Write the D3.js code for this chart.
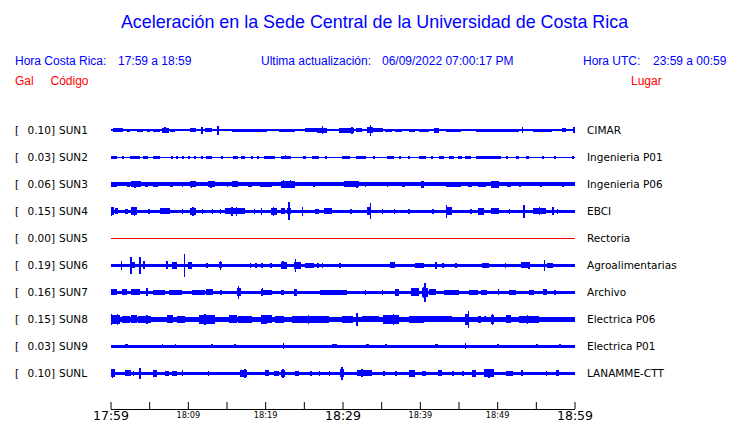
<!DOCTYPE html>
<html><head><meta charset="utf-8">
<script src="https://cdn.jsdelivr.net/npm/d3@7/dist/d3.min.js"></script>
<style>
html,body{margin:0;padding:0;background:#fff;}
svg{display:block;}
</style></head>
<body>
<svg id="c" width="740" height="423"></svg>
<script>
// ---------- data ----------
const codes = ["SUN1","SUN2","SUN3","SUN4","SUN5","SUN6","SUN7","SUN8","SUN9","SUNL"];
const galValues = ["0.10","0.03","0.06","0.15","0.00","0.19","0.16","0.15","0.03","0.10"];
const places = ["CIMAR","Ingenieria P01","Ingenieria P06","EBCI","Rectoria","Agroalimentarias","Archivo","Electrica P06","Electrica P01","LANAMME-CTT"];
// base noise half-amplitude per trace (relative units)
const baseLevels = [1.1,0.6,1.9,1.7,0,1.7,1.8,2.5,1.5,1.8];
const tickMinutes = [0,5,10,15,20,25,30,35,40,45,50,55,60];
const tickLabels = ["17:59","","18:09","","18:19","","18:29","","18:39","","18:49","","18:59"];

// bursts: [start minute, end minute, half-amplitude]; spikes: [minute, half-amplitude]
const sun1Bursts = [[0.37,1.66,2],[2.1,2.5,1.8],[3.4,4.25,1.8],[4.7,5.1,1.8],[5.5,6.4,1.8],[6.6,7.5,2.4],[7.7,8.3,1.8],[10.3,11.1,2],[12.2,13.1,2],[15.7,20.2,1.6],
  [21.8,23.9,1.6],[25.2,26.7,2.2],[26.7,28.0,2.8],[29.5,31.45,2.3],[31.7,32.5,2],[33.2,34.0,3],[34.0,35.3,2.2],[35.5,36.4,1.8],[36.8,37.7,1.8],[38.6,39.4,1.8],
  [39.9,41.2,1.5],[41.85,42.5,2.3],[43.4,45.3,1.7],[47.2,52.8,1.5],[54.6,57.1,1.5],[58.4,58.9,2]];
const sun1Spikes = [[7.05,3],[11.8,3.5],[13.9,4.5],[27.4,4.2],[31.2,3.5],[33.6,6],[42.1,2.8],[53.3,3.2],[59.95,3.2]];

const sun2Bursts = [[0,0.8,1.5],[1.5,1.8,1.3],[2.5,3.8,1.5],[4.25,4.9,1.4],[5.5,6.4,1.4],[7.8,8.05,1.4],[8.5,8.75,1.4],[9.3,9.55,1.4],[10.0,10.25,1.4],[10.8,11.05,1.4],[11.7,11.95,1.4],
  [12.4,13.1,1.4],[14.3,14.55,1.4],[15.9,16.5,1.5],[16.9,17.4,1.4],[18.2,18.45,1.4],[19.0,19.25,1.4],[19.8,20.2,1.4],
  [20.3,21.3,1.3],[22.0,23.3,1.8],[24.9,25.3,1.4],[26.1,26.9,1.4],[27.7,27.95,1.4],[29.9,31.0,1.5],[31.7,33.0,1.4],[33.9,34.15,1.4],[35.8,36.6,1.4],[37.3,37.5,1.4],[38.5,38.75,1.4],
  [39.9,40.8,1.5],[41.5,41.75,1.4],[42.5,43.1,1.4],[43.8,44.4,1.4],[44.9,45.5,1.4],[45.9,46.6,1.4],[47.2,50.5,1.4],[51.2,51.45,1.4],[52.4,52.8,1.4],[53.7,54.1,1.4],[55.8,56.05,1.4],[57.4,57.6,1.4],[59.7,59.95,1.4]];
const sun2Spikes = [[22.6,2],[0.3,1.8]];

const sun3Bursts = [[0,0.8,2.8],[2.1,2.5,2.6],[2.7,4.0,3],[4.5,4.9,2.6],[5.5,6.2,2.6],[7.7,8.1,2.6],[9.2,9.4,2.6],[10.3,11.1,3],[12.6,13.5,3],[15.0,15.2,2.6],[15.7,16.5,3],[17.8,18.3,2.6],[19.3,20.2,2.6],
  [19.6,20.9,2.5],[22.0,23.9,3.5],[26.2,26.4,2.6],[30.2,32.1,3],[32.9,33.1,2.6],[35.7,35.9,2.6],[37.7,38.1,2.8],[40.1,40.5,3.5],
  [43.4,45.3,2.8],[46.2,46.8,2.6],[47.5,48.5,2.8],[49.2,50.3,3.5],[51.3,51.8,2.6],[52.8,53.1,2.6],[55.6,55.8,2.6],[58.4,58.6,2.6]];
const sun3Spikes = [[3.2,3.6],[10.5,3.6],[13.0,3.4],[22.4,4.2],[23.3,4.2],[31.9,3.6],[49.6,3.8],[40.3,3.8]];

const sun4Bursts = [[0,0.4,4],[0.6,1.0,3],[1.9,2.2,2.8],[2.7,3.4,4],[4.85,5.1,2.8],[6.4,7.7,3],[9.2,9.4,2.8],[10.3,11.1,3.5],[11.8,12.0,2.8],[13.1,13.3,2.8],[14.1,14.3,2.8],[14.8,17.4,3],[18.5,18.7,2.8],
  [20.7,21.5,3.5],[22.0,22.6,3],[22.8,23.3,3.2],[26.5,26.9,2.8],[27.6,28.65,3],[31.0,31.2,2.8],[33.2,33.6,4],[35.1,35.3,2.8],[36.6,36.8,2.8],[38.5,38.7,2.8],
  [41.6,41.8,2.8],[43.4,44.2,4],[46.5,46.7,2.8],[47.5,48.3,3.5],[49.2,50.3,3],[51.5,51.7,2.8],[54.6,56.3,3],[57.7,57.9,2.8]];
const sun4Spikes = [[0.15,5],[3.1,4.8],[10.7,5],[15.7,4.5],[16.3,4.5],[19.5,3.6],[21.1,5],[23.05,9.5],[24.8,5],[33.6,8.5],[43.45,7],[53.5,7],[55.5,4],[57.2,4]];

const sun5Bursts = [];
const sun5Spikes = [];

const sun6Bursts = [[2.5,3.2,3],[4.25,4.5,4],[7.9,8.6,3.5],[10.0,10.5,3.5],[12.4,12.6,2.8],[14.0,14.4,3],[18.0,18.2,2.6],[18.7,18.9,2.6],[19.5,19.7,2.6],
  [20.6,20.9,2.5],[22.0,22.8,3.5],[23.7,24.6,3.5],[25.2,26.3,2.8],[26.7,26.9,2.6],[27.3,27.5,2.6],[29.6,29.8,2.6],[36.2,36.8,3],[39.4,40.5,2.5],
  [42.9,43.1,2.6],[44.6,44.8,2.6],[48.1,49.0,2.5],[51.0,51.2,2.6],[53.1,54.1,3],[56.5,57.2,2.5]];
const sun6Spikes = [[1.45,5],[2.65,9],[3.8,9],[7.3,4],[9.6,12],[14.2,5],[22.3,4],[23.9,7],[42.1,3.5],[54.1,3.5],[56.1,5.5]];

const sun7Bursts = [[0,0.8,3],[1.45,2.1,3],[2.7,3.8,3],[5.5,7.1,2.5],[7.5,9.2,2.8],[10.5,12.2,2.8],[12.4,13.3,3],[14.2,14.4,2.6],[16.3,16.9,4],
  [19.6,20.9,2.5],[22.0,22.4,2.8],[23.7,24.1,3.5],[27.1,30.6,2.5],[32.9,33.1,2.6],[35.1,35.3,2.6],[36.8,37.3,3.5],[38.8,39.9,4],
  [40.3,41.0,5],[41.2,42.1,3],[43.1,45.1,2.5],[46.4,47.5,2.5],[47.9,48.7,2.6],[51.5,52.4,2.6],[54.1,54.8,2.6],[55.9,56.5,3],[57.4,57.6,2.6]];
const sun7Spikes = [[4.7,4],[16.55,7],[19.5,3.5],[19.65,4],[40.5,6],[40.7,10],[50.2,3]];

const sun8Bursts = [[0,1.2,5],[1.45,2.5,3.5],[2.7,3.4,4],[3.6,5.3,3.5],[7.3,8.1,4],[8.6,9.6,3.5],[11.4,13.5,4.5],[15.3,16.3,4],[16.5,18.3,3.5],[19.5,20.2,4.5],
  [19.6,20.9,4],[21.3,22.4,3.5],[23.5,28.2,3.5],[29.9,31.4,3.5],[32.5,34.7,3],[35.3,37.3,5],[38.6,40.5,3.5],
  [39.9,44.2,3],[45.9,46.4,6],[47.5,47.9,3.5],[48.3,48.5,3],[49.2,49.6,5],[51.1,51.8,4],[52.8,55.4,3.5],[56.3,60,2.8]];
const sun8Spikes = [[0.15,6],[0.9,6],[4.7,4.8],[12.2,5.5],[25.6,5],[31.9,7],[36.6,6],[46.3,9],[49.4,6],[53.9,5]];

const sun9Bursts = [[1.9,2.3,2],[6.6,6.8,1.9],[8.3,8.5,1.9],[13.0,13.2,1.9],[16.0,16.2,1.9],[28.6,29.3,2],[33.0,33.4,1.9],[35.5,35.7,1.9],[42.0,42.3,1.9],[50.0,50.2,1.9],[55.0,55.3,1.9],[58.0,58.2,1.9]];
const sun9Spikes = [[22.4,3],[45.9,3]];

const sunLBursts = [[0,0.6,4],[1.9,2.7,3],[2.9,3.05,2.8],[5.5,6.0,3.5],[7.1,7.5,2.8],[7.9,8.6,2.8],[9.2,9.4,3],[12.6,12.8,2.6],[16.7,17.6,3.5],
  [20.0,20.5,3],[21.1,21.8,2.8],[22.0,22.6,3.5],[23.9,24.4,2.8],[25.8,26.0,2.6],[26.9,27.1,2.6],[28.2,28.4,2.6],[29.7,30.2,4],[31.9,33.8,3],[35.3,35.5,2.6],[36.8,37.0,2.6],[38.6,39.4,3.5],
  [40.3,40.8,2.8],[42.3,42.9,3],[44.2,44.4,2.6],[45.5,45.7,2.6],[46.8,47.2,3.5],[48.3,49.6,4],[51.1,52.0,2.8],[53.1,53.3,3],[56.3,56.5,2.6],[57.6,58.0,3]];
const sunLSpikes = [[0.25,5],[3.8,6],[17.4,5],[22.3,5],[29.95,6.5],[32.5,4],[48.95,5]];

const burstLists = [sun1Bursts,sun2Bursts,sun3Bursts,sun4Bursts,sun5Bursts,sun6Bursts,sun7Bursts,sun8Bursts,sun9Bursts,sunLBursts];
const spikeLists = [sun1Spikes,sun2Spikes,sun3Spikes,sun4Spikes,sun5Spikes,sun6Spikes,sun7Spikes,sun8Spikes,sun9Spikes,sunLSpikes];

// ---------- drawing ----------
const svg = d3.select("#c");
const blue = "#0000ff", red = "#ff0000";
const headFont = "'Liberation Sans', Arial, sans-serif";
const labFont = "'DejaVu Sans', sans-serif";

const x = d3.scaleLinear().domain([0,60]).range([110.5,574.5]);
const row = d3.scalePoint().domain(codes).range([130.3,373.3]);
const amp = d3.scaleLinear().domain([0,12]).range([0,11.5]);

// header
svg.append("text").attr("x",374.5).attr("y",28).attr("text-anchor","middle")
  .attr("font-family",headFont).attr("font-size",17.9).attr("fill",blue)
  .text("Aceleración en la Sede Central de la Universidad de Costa Rica");

const head = [
  {t:"Hora Costa Rica:",x:15,y:65,c:blue},
  {t:"17:59 a 18:59",x:118,y:65,c:blue},
  {t:"Ultima actualización:",x:261,y:65,c:blue},
  {t:"06/09/2022 07:00:17 PM",x:382,y:65,c:blue},
  {t:"Hora UTC:",x:583,y:65,c:blue},
  {t:"23:59 a 00:59",x:653,y:65,c:blue},
  {t:"Gal",x:15,y:85,c:red},
  {t:"Código",x:50.5,y:85,c:red},
  {t:"Lugar",x:631,y:85,c:red}
];
svg.selectAll("text.head").data(head).join("text").attr("class","head")
  .attr("x",d=>d.x).attr("y",d=>d.y).attr("fill",d=>d.c)
  .attr("font-family",headFont).attr("font-size",12).text(d=>d.t);

// rows
const rows = svg.selectAll("g.row").data(codes.map((c,i)=>({code:c,i}))).join("g").attr("class","row");

rows.append("text").attr("x",15).attr("y",d=>row(d.code)+4)
  .attr("font-family",labFont).attr("font-size",10.5).attr("fill","#000").text("[");
rows.append("text").attr("x",55).attr("y",d=>row(d.code)+4).attr("text-anchor","end")
  .attr("font-family",labFont).attr("font-size",10.5).attr("fill","#000").text(d=>galValues[d.i]+"]");
rows.append("text").attr("x",59).attr("y",d=>row(d.code)+4)
  .attr("font-family",labFont).attr("font-size",10.5).attr("fill","#000").text(d=>d.code);
rows.append("text").attr("x",587).attr("y",d=>row(d.code)+4)
  .attr("font-family",labFont).attr("font-size",10.5).attr("fill","#000").text(d=>places[d.i]);

const traces = rows.append("g").attr("shape-rendering","crispEdges");

traces.each(function(d){
  const g = d3.select(this);
  const yc = row(d.code);
  const base = baseLevels[d.i];
  if (base === 0) {
    g.append("line").attr("x1",x(0)).attr("x2",x(60)).attr("y1",Math.round(yc)+0.5).attr("y2",Math.round(yc)+0.5)
      .attr("stroke",red).attr("stroke-width",1);
    return;
  }
  g.append("rect").attr("x",x(0)).attr("width",x(60)-x(0))
    .attr("y",yc-amp(base)).attr("height",2*amp(base)).attr("fill",blue);
  g.selectAll("rect.b").data(burstLists[d.i]).join("rect").attr("class","b")
    .attr("x",b=>x(b[0])).attr("width",b=>Math.max(1.5,x(b[1])-x(b[0])))
    .attr("y",b=>yc-amp(b[2])).attr("height",b=>2*amp(b[2])).attr("fill",blue);
  g.selectAll("rect.s").data(spikeLists[d.i]).join("rect").attr("class","s")
    .attr("x",s=>x(s[0])-0.75).attr("width",1.5)
    .attr("y",s=>yc-amp(s[1])).attr("height",s=>2*amp(s[1])).attr("fill",blue);
});

// time axis
const axis = d3.axisBottom(x).tickValues(tickMinutes).tickSizeInner(-7).tickSizeOuter(0)
  .tickFormat((m,i)=>tickLabels[i]);
const ag = svg.append("g").attr("transform","translate(0,409)").call(axis);
ag.select(".domain").attr("stroke","#000");
ag.selectAll(".tick line").attr("stroke","#000");
ag.selectAll(".tick text").attr("fill","#000").attr("font-family",labFont)
  .attr("dy",null)
  .attr("y",(m,i)=> (i%6===0) ? 11 : 9)
  .attr("font-size",(m,i)=> (i%6===0) ? 12.5 : 8.2);
</script>
</body></html>
